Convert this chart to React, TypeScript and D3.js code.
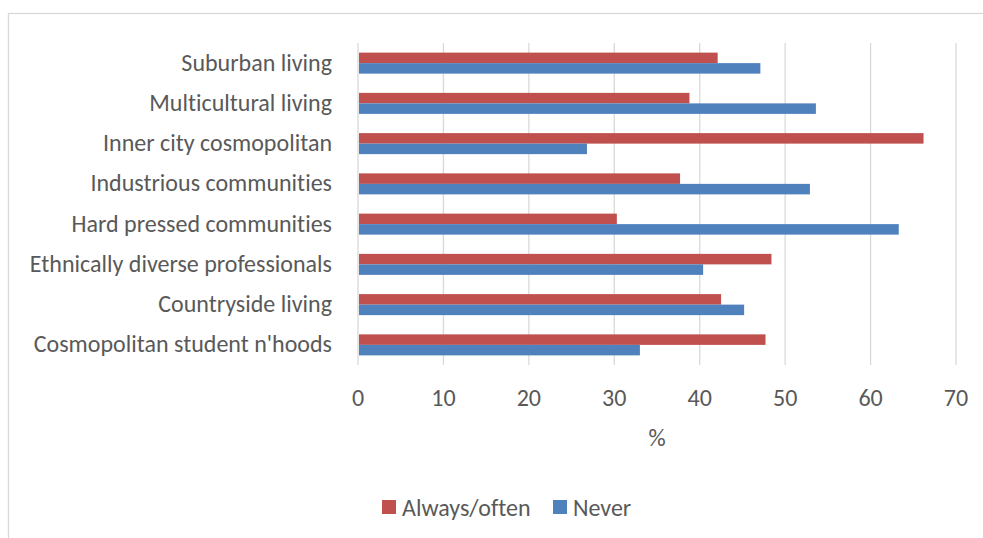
import React from "react";
import * as d3 from "d3";

const categories = [
  "Suburban living",
  "Multicultural living",
  "Inner city cosmopolitan",
  "Industrious communities",
  "Hard pressed communities",
  "Ethnically diverse professionals",
  "Countryside living",
  "Cosmopolitan student n'hoods",
];
const alwaysOften = [42.1, 38.8, 66.2, 37.7, 30.3, 48.4, 42.5, 47.7];
const never = [47.1, 53.6, 26.8, 52.9, 63.3, 40.4, 45.2, 33.0];
const seriesNames = ["Always/often", "Never"];
const seriesColors = ["#c0504d", "#4f81bd"];
const xTicks = [0, 10, 20, 30, 40, 50, 60, 70];
const xAxisTitle = "%";

const W = 983;
const H = 538;
const FONT = "Carlito, Lato, 'Liberation Sans', sans-serif";
const FS = 24;
const TEXT = "#595959";
const GRID = "#d9d9d9";

export default function App() {
  const x = d3.scaleLinear().domain([0, 70]).range([358, 956]);
  const p = 0.478;
  const y = d3
    .scaleBand<string>()
    .domain(categories)
    .range([43, 365])
    .paddingInner(p)
    .paddingOuter(p / 2);
  const inner = d3
    .scaleBand<string>()
    .domain(seriesNames)
    .range([0, y.bandwidth()]);
  const series = [alwaysOften, never];

  return (
    <svg
      width={W}
      height={H}
      style={{ position: "absolute", left: 0, top: 0, fontVariantLigatures: "none" }}
      fontFamily={FONT}
    >
      <rect x={0} y={0} width={W} height={H} fill="#fff" />
      <rect
        x={8.5}
        y={13.5}
        width={W + 20}
        height={H + 20}
        fill="none"
        stroke={GRID}
        strokeWidth={1.3}
      />
      {xTicks.map((t) => (
        <line
          key={"g" + t}
          x1={x(t)}
          x2={x(t)}
          y1={43}
          y2={365}
          stroke={GRID}
          strokeWidth={1.3}
        />
      ))}
      {categories.map((c, i) =>
        series.map((s, j) => (
          <rect
            key={c + j}
            x={x(0) + 1}
            y={(y(c) as number) + (inner(seriesNames[j]) as number)}
            width={x(s[i]) - x(0) - 1}
            height={inner.bandwidth()}
            fill={seriesColors[j]}
          />
        ))
      )}
      {categories.map((c) => (
        <text
          key={"l" + c}
          x={332}
          y={(y(c) as number) + y.bandwidth() / 2 - 1}
          textAnchor="end"
          dominantBaseline="central"
          fontSize={FS}
          fill={TEXT}
        >
          {c}
        </text>
      ))}
      {xTicks.map((t) => (
        <text
          key={"t" + t}
          x={x(t)}
          y={397}
          textAnchor="middle"
          dominantBaseline="central"
          fontSize={FS}
          fill={TEXT}
        >
          {t}
        </text>
      ))}
      <text
        x={(x(0) + x(70)) / 2}
        y={437}
        textAnchor="middle"
        dominantBaseline="central"
        fontSize={FS}
        fill={TEXT}
      >
        {xAxisTitle}
      </text>
      {seriesNames.map((n, j) => {
        const lx = [382, 553][j];
        return (
          <g key={"leg" + n}>
            <rect x={lx} y={500} width={14} height={14} fill={seriesColors[j]} />
            <text
              x={lx + 20}
              y={507}
              dominantBaseline="central"
              fontSize={FS}
              fill={TEXT}
            >
              {n}
            </text>
          </g>
        );
      })}
    </svg>
  );
}
